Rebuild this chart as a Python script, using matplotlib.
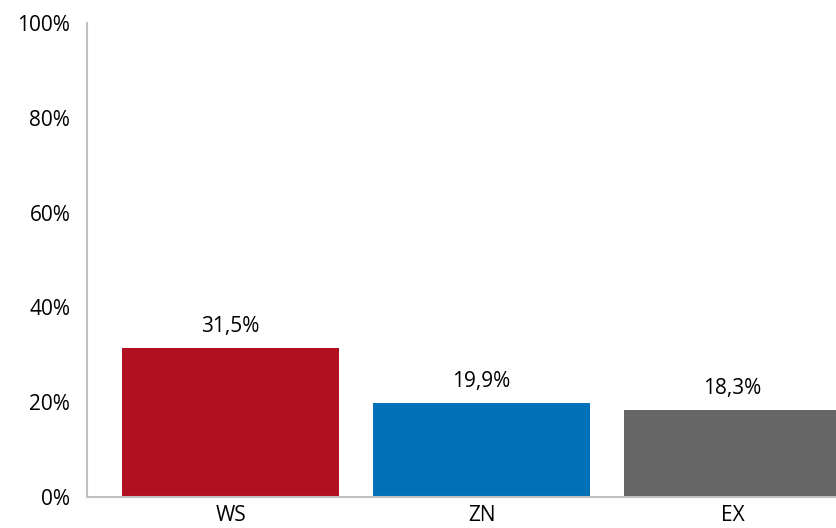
import matplotlib.pyplot as plt

categories = ['WS', 'ZN', 'EX']
values = [31.5, 19.9, 18.3]
labels = ['31,5%', '19,9%', '18,3%']
colors = ['#B01020', '#0070B8', '#666666']
yticks = [0, 20, 40, 60, 80, 100]

plt.rcParams['font.family'] = ['Open Sans', 'DejaVu Sans']

fig = plt.figure(figsize=(8.36, 5.28), dpi=100)
ax = fig.add_axes([87 / 836, 31 / 528, 1 - 87 / 836, 474 / 528])

x = range(len(categories))
bars = ax.bar(x, values, width=0.865, color=colors)

for b, lab in zip(bars, labels):
    ax.annotate(lab, (b.get_x() + b.get_width() / 2, b.get_height()),
                xytext=(0, 8), textcoords='offset points',
                ha='center', va='bottom', fontsize=15)

ax.set_xlim(-0.572, 2.412)
ax.set_ylim(0, 100)
ax.set_yticks(yticks)
ax.set_yticklabels([f'{t}%' for t in yticks], fontsize=15)
ax.set_xticks(list(x))
ax.set_xticklabels(categories, fontsize=15)
ax.tick_params(axis='both', length=0)
ax.tick_params(axis='y', pad=12)
ax.tick_params(axis='x', pad=6)

for s in ['top', 'right']:
    ax.spines[s].set_visible(False)
for s in ['left', 'bottom']:
    ax.spines[s].set_color('#c0c0c0')
    ax.spines[s].set_linewidth(1.5)

fig.savefig('out.png', dpi=100)
